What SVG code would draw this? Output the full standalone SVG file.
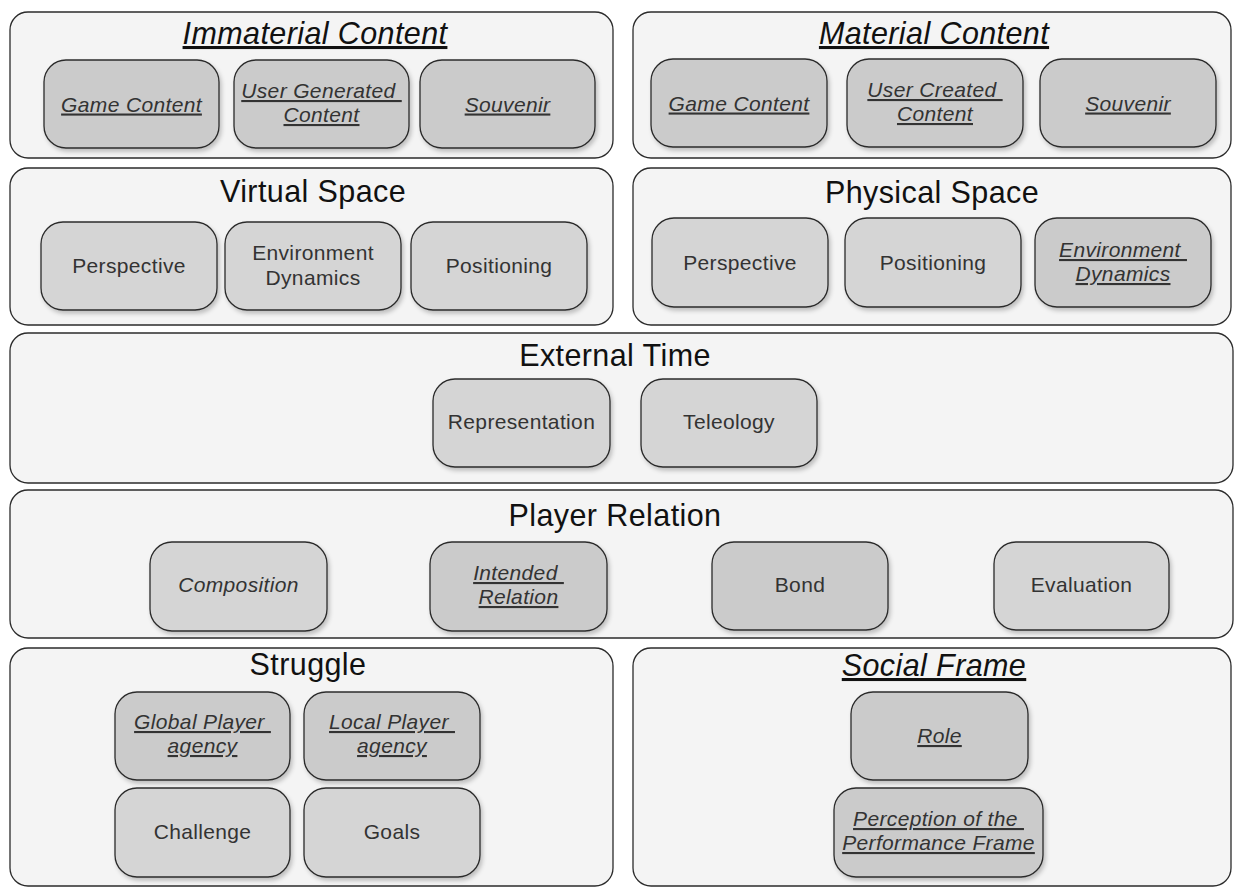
<svg xmlns="http://www.w3.org/2000/svg" width="1235" height="887" viewBox="0 0 1235 887">
<defs>
<filter id="sh" x="-10%" y="-10%" width="125%" height="130%">
<feDropShadow dx="2" dy="3" stdDeviation="2.2" flood-color="#000" flood-opacity="0.22"/>
</filter>
<style>
.cont{fill:#f4f4f4;stroke:#2b2b2b;stroke-width:1.3}
.node{stroke:#2b2b2b;stroke-width:1.3;filter:url(#sh)}
.pl{fill:#d5d5d5}
.dk{fill:#cbcbcb}
.t{font-family:"Liberation Sans",Arial,sans-serif;font-size:30.5px;letter-spacing:0.4px;fill:#111;text-anchor:middle}
.n{font-family:"Liberation Sans",Arial,sans-serif;font-size:21px;letter-spacing:0.35px;fill:#333;text-anchor:middle;white-space:pre}
.i{font-style:italic}
.u{text-decoration:underline}
</style>
</defs>

<g id="connectors"></g>

<g id="immaterial-content">
<rect class="cont" x="10" y="12" width="603" height="146" rx="18"/>
<text class="t i u" x="315" y="44">Immaterial Content</text>
</g>
<g id="material-content">
<rect class="cont" x="633" y="12" width="598" height="146" rx="18"/>
<text class="t i u" x="934" y="44">Material Content</text>
</g>
<g id="virtual-space">
<rect class="cont" x="10" y="168" width="603" height="157" rx="18"/>
<text class="t" x="313" y="202">Virtual Space</text>
</g>
<g id="physical-space">
<rect class="cont" x="633" y="168" width="598" height="157" rx="18"/>
<text class="t" x="932" y="203">Physical Space</text>
</g>
<g id="external-time">
<rect class="cont" x="10" y="333" width="1223" height="150" rx="18"/>
<text class="t" x="615" y="366">External Time</text>
</g>
<g id="player-relation">
<rect class="cont" x="10" y="490" width="1223" height="148" rx="18"/>
<text class="t" x="615" y="526">Player Relation</text>
</g>
<g id="struggle">
<rect class="cont" x="10" y="648" width="603" height="238" rx="18"/>
<text class="t" x="308" y="675">Struggle</text>
</g>
<g id="social-frame">
<rect class="cont" x="633" y="648" width="598" height="238" rx="18"/>
<text class="t i u" x="934" y="676">Social Frame</text>
</g>

<g id="im-game-content">
<rect class="node dk" x="44" y="60" width="175" height="88" rx="22"/>
<text class="n i u" x="131.5" y="111.5">Game Content</text>
</g>
<g id="im-user-generated-content">
<rect class="node dk" x="234" y="60" width="175" height="88" rx="22"/>
<text class="n i u" x="321.5" y="98">User Generated </text>
<text class="n i u" x="321.5" y="122">Content</text>
</g>
<g id="im-souvenir">
<rect class="node dk" x="420" y="60" width="175" height="88" rx="22"/>
<text class="n i u" x="507.5" y="111.5">Souvenir</text>
</g>

<g id="ma-game-content">
<rect class="node dk" x="651" y="59" width="176" height="88" rx="22"/>
<text class="n i u" x="739" y="110.5">Game Content</text>
</g>
<g id="ma-user-created-content">
<rect class="node dk" x="847" y="59" width="176" height="88" rx="22"/>
<text class="n i u" x="935" y="97">User Created </text>
<text class="n i u" x="935" y="121">Content</text>
</g>
<g id="ma-souvenir">
<rect class="node dk" x="1040" y="59" width="176" height="88" rx="22"/>
<text class="n i u" x="1128" y="110.5">Souvenir</text>
</g>

<g id="vs-perspective">
<rect class="node pl" x="41" y="222" width="176" height="88" rx="22"/>
<text class="n" x="129" y="273">Perspective</text>
</g>
<g id="vs-environment-dynamics">
<rect class="node pl" x="225" y="222" width="176" height="88" rx="22"/>
<text class="n" x="313" y="260">Environment</text>
<text class="n" x="313" y="285">Dynamics</text>
</g>
<g id="vs-positioning">
<rect class="node pl" x="411" y="222" width="176" height="88" rx="22"/>
<text class="n" x="499" y="273">Positioning</text>
</g>

<g id="ps-perspective">
<rect class="node pl" x="652" y="218" width="176" height="89" rx="22"/>
<text class="n" x="740" y="270">Perspective</text>
</g>
<g id="ps-positioning">
<rect class="node pl" x="845" y="218" width="176" height="89" rx="22"/>
<text class="n" x="933" y="270">Positioning</text>
</g>
<g id="ps-environment-dynamics">
<rect class="node dk" x="1035" y="218" width="176" height="89" rx="22"/>
<text class="n i u" x="1123" y="257">Environment </text>
<text class="n i u" x="1123" y="281">Dynamics</text>
</g>

<g id="et-representation">
<rect class="node pl" x="433" y="379" width="177" height="88" rx="22"/>
<text class="n" x="521.5" y="429">Representation</text>
</g>
<g id="et-teleology">
<rect class="node pl" x="641" y="379" width="176" height="88" rx="22"/>
<text class="n" x="729" y="429">Teleology</text>
</g>

<g id="pr-composition">
<rect class="node pl" x="150" y="542" width="177" height="89" rx="22"/>
<text class="n i" x="238.5" y="592">Composition</text>
</g>
<g id="pr-intended-relation">
<rect class="node dk" x="430" y="542" width="177" height="89" rx="22"/>
<text class="n i u" x="518.5" y="580">Intended </text>
<text class="n i u" x="518.5" y="604">Relation</text>
</g>
<g id="pr-bond">
<rect class="node dk" x="712" y="542" width="176" height="88" rx="22"/>
<text class="n" x="800" y="592">Bond</text>
</g>
<g id="pr-evaluation">
<rect class="node pl" x="994" y="542" width="175" height="88" rx="22"/>
<text class="n" x="1081.5" y="592">Evaluation</text>
</g>

<g id="st-global-player-agency">
<rect class="node dk" x="115" y="692" width="175" height="88" rx="22"/>
<text class="n i u" x="202.5" y="729">Global Player </text>
<text class="n i u" x="202.5" y="753">agency</text>
</g>
<g id="st-local-player-agency">
<rect class="node dk" x="304" y="692" width="176" height="88" rx="22"/>
<text class="n i u" x="392" y="729">Local Player </text>
<text class="n i u" x="392" y="753">agency</text>
</g>
<g id="st-challenge">
<rect class="node pl" x="115" y="788" width="175" height="89" rx="22"/>
<text class="n" x="202.5" y="839">Challenge</text>
</g>
<g id="st-goals">
<rect class="node pl" x="304" y="788" width="176" height="89" rx="22"/>
<text class="n" x="392" y="839">Goals</text>
</g>

<g id="sf-role">
<rect class="node dk" x="851" y="692" width="177" height="88" rx="22"/>
<text class="n i u" x="939.5" y="743">Role</text>
</g>
<g id="sf-perception">
<rect class="node dk" x="834" y="788" width="209" height="89" rx="22"/>
<text class="n i u" x="938.5" y="826">Perception of the </text>
<text class="n i u" x="938.5" y="850">Performance Frame</text>
</g>
</svg>
